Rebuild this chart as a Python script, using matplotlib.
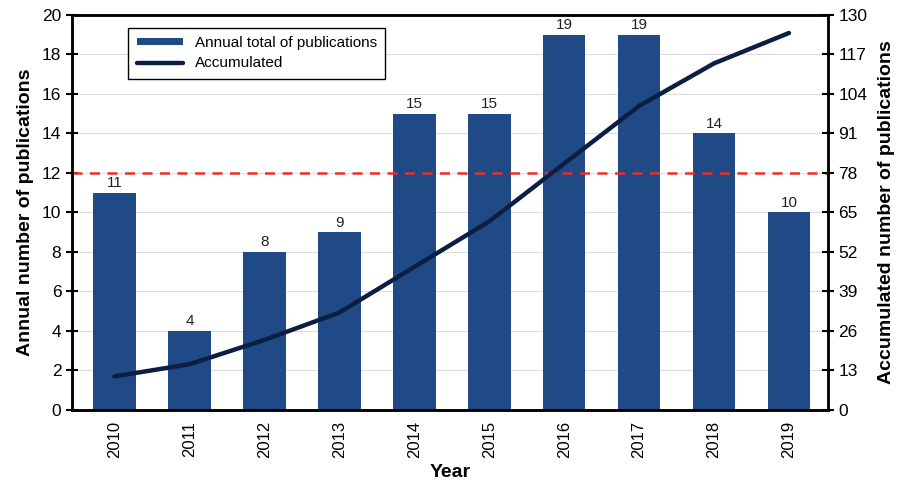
import numpy as np
import matplotlib
matplotlib.use('Agg')
from matplotlib import pyplot as plt

years = ['2010', '2011', '2012', '2013', '2014', '2015', '2016', '2017', '2018', '2019']
annual = [11, 4, 8, 9, 15, 15, 19, 19, 14, 10]
# accumulated values
accum = [11, 15, 23, 32, 47, 62, 81, 100, 114, 124]
left_ticks = [0, 2, 4, 6, 8, 10, 12, 14, 16, 18, 20]
right_ticks = [0, 13, 26, 39, 52, 65, 78, 91, 104, 117, 130]
threshold = 12

plt.rcParams['font.family'] = ['Liberation Sans', 'DejaVu Sans']

fig = plt.figure(figsize=(8.97, 4.92), dpi=100)
ax = fig.add_axes([0.080, 0.167, 0.843, 0.803])
ax2 = ax.twinx()

x = np.arange(len(years))
bars = ax.bar(x, annual, width=0.57, color='#1f4a85', zorder=2)
for xi, v in zip(x, annual):
    ax.text(xi, v + 0.12, str(v), ha='center', va='bottom', fontsize=11, color='#222222')

# threshold line sits above the bars
ax.axhline(threshold, color='#e8302a', ls=(0, (4, 3)), lw=1.8, zorder=3)

line, = ax2.plot(x, accum, color='#0b1f45', lw=3.2, solid_capstyle='round')

ax.set_xlim(-0.57, 9.52)
ax.set_ylim(0, 20)
ax2.set_ylim(0, 130)
ax.set_yticks(left_ticks)
ax2.set_yticks(right_ticks)
ax.set_xticks(x)
ax.set_xticklabels(years, rotation=90, fontsize=12)
ax.tick_params(axis='x', length=0, pad=8)
ax.tick_params(axis='y', direction='inout', length=8, width=1.5, labelsize=12.5)
ax2.tick_params(axis='y', direction='inout', length=8, width=1.5, labelsize=12.5)

ax.grid(axis='y', color='#dddddd', lw=0.8, zorder=0)
ax.set_axisbelow(True)

for a in (ax, ax2):
    for s in a.spines.values():
        s.set_linewidth(1.8)

ax.set_xlabel('Year', fontsize=14, fontweight='bold', labelpad=4)
ax.set_ylabel('Annual number of publications', fontsize=14, fontweight='bold', labelpad=6)
ax2.set_ylabel('Accumulated number of publications', fontsize=14, fontweight='bold', labelpad=8)

leg = ax2.legend([bars, line], ['Annual total of publications', 'Accumulated'],
                 loc='upper left', bbox_to_anchor=(0.075, 0.967), borderaxespad=0,
                 fontsize=11, fancybox=False, edgecolor='black', framealpha=1,
                 borderpad=0.55, handlelength=3.0, handleheight=0.35, labelspacing=0.4)
leg.get_frame().set_linewidth(1.0)

fig.savefig('out.png', dpi=100)
